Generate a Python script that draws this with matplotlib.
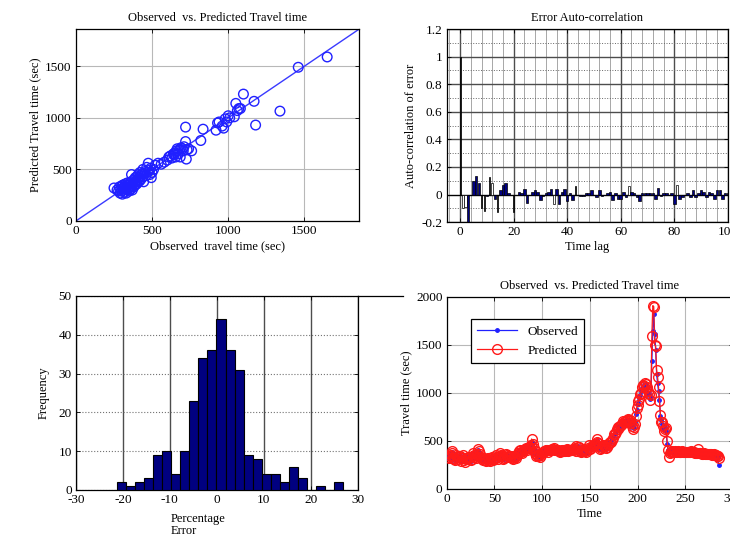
import numpy as np
import matplotlib
matplotlib.use("Agg")
import matplotlib.pyplot as plt
from matplotlib.ticker import MultipleLocator
from matplotlib.lines import Line2D

plt.rcParams['font.family'] = ['Liberation Serif', 'DejaVu Serif']
plt.rcParams['font.size'] = 9
plt.rcParams['axes.unicode_minus'] = False

# --- scatter: observed vs predicted travel time (sec)
scat_obs = [250, 270, 280, 285, 290, 295, 300, 300, 305, 310, 310, 315, 320, 320, 325, 330, 330, 335,
            340, 340, 345, 350, 350, 355, 360, 360, 365, 370, 370, 375, 380, 380, 385, 390, 390, 395,
            400, 400, 405, 410, 410, 415, 420, 420, 425, 430, 435, 440, 440, 445, 450, 455, 460, 465,
            470, 475, 480, 485, 490, 495, 500, 510, 520, 540, 560, 580,
            600, 610, 620, 630, 640, 645, 650, 655, 660, 665, 670, 680, 685, 690, 700, 705, 710, 720,
            720, 725, 730, 740, 760, 820, 835,
            920, 930, 940, 960, 970, 980, 990, 1000, 1010, 1040, 1050, 1060, 1070, 1080, 1100, 1170,
            1180, 1340, 1460, 1650]
scat_pred = [320, 300, 290, 330, 270, 310, 340, 290, 260, 320, 350, 300, 280, 330, 360, 310, 270, 340,
             300, 370, 320, 290, 350, 330, 310, 380, 450, 340, 300, 360, 400, 330, 370, 350, 420, 390,
             360, 430, 400, 380, 450, 420, 390, 470, 440, 410, 460, 500, 430, 380, 460, 480, 440, 520,
             470, 560, 490, 450, 510, 420, 470, 500, 540, 560, 550, 570,
             590, 620, 630, 610, 650, 640, 660, 620, 680, 700, 650, 690, 620, 710, 700, 680, 720, 770,
             910, 600, 690, 700, 680, 780, 890,
             880, 950, 960, 920, 900, 990, 960, 1020, 1000, 1010, 1140, 1070, 1090, 1090, 1230, 1160,
             930, 1065, 1490, 1590]

# --- error auto-correlation, lags 0..100
acf_vals = [1.0, -0.10, -0.09, -0.25, 0.0, 0.10, 0.135, 0.08, -0.10, -0.12,
            -0.01, 0.13, 0.08, -0.03, -0.13, 0.03, 0.07, 0.08, 0.01, 0.0,
            -0.13, 0.0, 0.02, 0.01, 0.04, -0.06, 0.0, 0.02, 0.03, 0.02,
            -0.04, -0.01, 0.01, 0.02, 0.04, -0.07, 0.04, -0.07, 0.02, 0.04,
            -0.05, 0.01, -0.04, 0.06, 0.0, -0.01, -0.01, 0.01, 0.01, 0.03,
            0.0, -0.02, 0.03, -0.01, 0.0, 0.01, 0.02, -0.04, 0.01, -0.03,
            -0.03, 0.02, -0.02, 0.065, 0.02, 0.01, -0.02, -0.05, 0.01, 0.01,
            0.01, 0.01, 0.01, -0.03, 0.05, -0.01, 0.01, 0.01, 0.0, 0.01,
            -0.07, 0.07, -0.03, -0.02, 0.0, 0.01, -0.02, 0.03, -0.02, 0.01,
            0.03, 0.02, -0.02, 0.02, 0.01, -0.03, 0.03, 0.03, -0.03, 0.01, 0.01]
acf_kind = ("kwwnnnnnkk" "nkwnknnnnn" "knnnnnnnnn" "nnnnnwnnnn" "nnnknnnnnn"
            "nnnnnnnnnn" "nnnwnnnnnn" "nnnnnnnnnn" "nwnnnnnnnn" "nnnnnnnnnnn")

# --- histogram of percentage error
hist_counts = [2, 1, 2, 3, 9, 10, 4, 10, 23, 34, 36, 44, 36, 31, 9, 8, 4, 4, 2, 6, 3, 0, 1, 0, 2]
hist_start = -21.3
hist_width = 1.93

# --- travel time series (sec)
observed = [320, 340, 310, 360, 380, 350, 330, 300, 320, 340,
            310, 330, 350, 320, 300, 330, 340, 290, 310, 330,
            300, 320, 340, 310, 290, 330, 350, 360, 340, 320,
            330, 380, 400, 370, 340, 320, 300, 310, 330, 290,
            300, 320, 310, 290, 300, 330, 320, 310, 300, 320,
            330, 340, 310, 320, 350, 360, 340, 330, 320, 310,
            340, 350, 360, 330, 320, 340, 330, 310, 320, 330,
            340, 320, 330, 360, 380, 400, 390, 370, 380, 400,
            410, 430, 420, 390, 440, 450, 420, 470, 490, 480,
            420, 380, 360, 350, 340, 330, 370, 320, 340, 380,
            390, 400, 380, 410, 400, 390, 410, 400, 420, 410,
            430, 420, 400, 390, 410, 420, 400, 380, 390, 400,
            410, 390, 400, 380, 420, 410, 400, 390, 410, 420,
            400, 430, 410, 440, 420, 380, 400, 450, 430, 380,
            370, 400, 420, 430, 380, 370, 410, 440, 450, 430,
            440, 460, 470, 450, 480, 460, 500, 510, 470, 440,
            430, 420, 450, 470, 440, 460, 420, 450, 470, 490,
            480, 500, 520, 540, 560, 580, 600, 610, 630, 640,
            650, 670, 660, 690, 700, 710, 690, 720, 700, 710,
            720, 700, 680, 650, 640, 630, 700, 780, 820, 880,
            900, 950, 980, 1020, 1050, 1060, 1080, 1090, 1070, 1050,
            1000, 980, 940, 960, 1330, 1650, 1820, 1610, 1450, 1200,
            1100, 1020, 930, 760, 720, 680, 650, 620, 640, 600,
            470, 400, 370, 380, 390, 385, 380, 390, 385, 380,
            390, 380, 385, 390, 380, 385, 390, 380, 385, 380,
            390, 385, 380, 375, 385, 390, 380, 375, 385, 380,
            370, 375, 380, 370, 365, 375, 370, 360, 365, 370,
            360, 365, 370, 360, 355, 365, 360, 355, 350, 360,
            350, 345, 340, 330, 250]
predicted = [330, 320, 340, 350, 390, 370, 320, 310, 300, 350,
             330, 310, 340, 340, 290, 320, 350, 300, 280, 320,
             310, 330, 320, 330, 300, 310, 340, 370, 350, 330,
             320, 360, 420, 390, 360, 330, 310, 300, 320, 300,
             290, 310, 320, 300, 290, 320, 330, 300, 310, 310,
             320, 350, 330, 310, 340, 370, 350, 340, 310, 320,
             330, 360, 350, 340, 330, 330, 340, 320, 310, 340,
             330, 330, 320, 350, 370, 390, 400, 380, 370, 390,
             400, 420, 430, 400, 430, 440, 430, 460, 520, 470,
             430, 390, 370, 340, 350, 340, 360, 330, 350, 370,
             380, 390, 390, 400, 410, 380, 400, 410, 410, 420,
             420, 430, 410, 400, 400, 410, 410, 390, 380, 390,
             400, 400, 390, 390, 410, 420, 390, 400, 400, 410,
             410, 420, 420, 430, 450, 390, 390, 440, 440, 390,
             380, 390, 410, 420, 390, 380, 400, 430, 460, 420,
             430, 450, 460, 460, 470, 470, 490, 520, 480, 450,
             420, 430, 440, 460, 450, 450, 430, 440, 460, 480,
             490, 490, 510, 530, 570, 570, 590, 620, 620, 650,
             640, 660, 670, 680, 710, 700, 700, 710, 720, 730,
             710, 720, 690, 660, 620, 650, 680, 760, 840, 870,
             920, 940, 990, 1000, 1060, 1080, 1070, 1100, 1090, 1060,
             1020, 990, 930, 980, 1590, 1910, 1900, 1500, 1490, 1240,
             1170, 1060, 920, 770, 700, 700, 660, 600, 620, 630,
             500, 410, 330, 370, 380, 390, 380, 385, 390, 380,
             385, 390, 380, 385, 385, 380, 390, 385, 380, 385,
             385, 380, 385, 380, 380, 390, 385, 380, 380, 375,
             375, 370, 420, 375, 370, 370, 375, 365, 360, 370,
             365, 360, 365, 365, 360, 360, 365, 355, 355, 365,
             355, 350, 345, 340, 320]

fig = plt.figure(figsize=(7.3, 5.39), dpi=100)


def box_style(ax):
    ax.tick_params(direction='in', top=True, right=True, length=3, width=0.6, labelsize=9.5, pad=3)
    for s in ax.spines.values():
        s.set_linewidth(0.9)
        s.set_color('black')


# top left: scatter
ax1 = fig.add_axes([0.104, 0.590, 0.388, 0.356])
lim = 1860
ax1.plot([0, lim], [0, lim], color='#3a3aff', lw=1.0, zorder=2)
ax1.scatter(scat_obs, scat_pred, s=48, facecolors='none', edgecolors='#2020ff', linewidths=1.0, zorder=3)
ax1.set_xlim(0, lim)
ax1.set_ylim(0, lim)
ax1.set_xticks([0, 500, 1000, 1500])
ax1.set_yticks([0, 500, 1000, 1500])
ax1.grid(True, color='0.72', lw=0.8)
ax1.set_axisbelow(True)
box_style(ax1)
ax1.set_title("Observed  vs. Predicted Travel time", fontsize=9, pad=6)
ax1.set_xlabel("Observed  travel time (sec)", fontsize=9, labelpad=2)
ax1.set_ylabel("Predicted Travel time (sec)", fontsize=9, labelpad=3)

# top right: error auto-correlation
ax2 = fig.add_axes([0.612, 0.588, 0.385, 0.358])
kind_color = {'n': '#000080', 'w': 'white', 'k': 'black'}
kind_width = {'n': 0.95, 'w': 0.8, 'k': 0.35}
lags = np.arange(len(acf_vals))
ax2.bar(lags, acf_vals, width=[kind_width[k] for k in acf_kind],
        color=[kind_color[k] for k in acf_kind], edgecolor='black', linewidth=0.5, zorder=3)
ax2.axhline(0, color='black', lw=0.8, zorder=2)
ax2.set_xlim(-5, 100)
ax2.set_ylim(-0.2, 1.2)
ax2.set_xticks([0, 20, 40, 60, 80, 100])
ax2.set_yticks(np.arange(-0.2, 1.21, 0.2))
ax2.yaxis.set_major_formatter(plt.FuncFormatter(lambda v, p: "%g" % round(v, 1)))
ax2.xaxis.set_minor_locator(MultipleLocator(4))
ax2.yaxis.set_minor_locator(MultipleLocator(0.1))
ax2.grid(True, which='major', color='0.3', lw=1.0)
ax2.grid(True, which='minor', axis='x', color='0.6', lw=0.6)
ax2.grid(True, which='minor', axis='y', color='0.4', lw=0.7, ls=':')
ax2.set_axisbelow(True)
box_style(ax2)
ax2.tick_params(which='minor', length=0)
ax2.set_title("Error Auto-correlation", fontsize=9, pad=6)
ax2.set_xlabel("Time lag", fontsize=9, labelpad=2)
ax2.set_ylabel("Auto-correlation of error", fontsize=9, labelpad=3)

# bottom left: histogram of percentage error
ax3 = fig.add_axes([0.104, 0.091, 0.386, 0.360])
left_edges = hist_start + hist_width * np.arange(len(hist_counts))
ax3.bar(left_edges, hist_counts, width=hist_width, align='edge',
        color='#000080', edgecolor='black', linewidth=0.8, zorder=3)
ax3.set_xlim(-30, 30)
ax3.set_ylim(0, 50)
ax3.set_xticks(np.arange(-30, 31, 10))
ax3.set_yticks(np.arange(0, 51, 10))
ax3.grid(True, axis='x', color='0.3', lw=1.0)
ax3.grid(True, axis='y', color='0.45', lw=0.8, ls=':')
ax3.set_axisbelow(True)
box_style(ax3)
ax3.set_ylabel("Frequency", fontsize=9, labelpad=6)
ax3.set_xlabel("Percentage\nError", fontsize=9, ha='left', x=0.335, multialignment='left',
               labelpad=5, linespacing=1.0)
fig.add_artist(Line2D([0.490, 0.552], [0.451, 0.451], color='black', lw=0.9))

# bottom right: time series
ax4 = fig.add_axes([0.612, 0.093, 0.392, 0.356])
t_obs = np.arange(1, len(observed) + 1)
t_pred = np.arange(1, len(predicted) + 1)
ax4.plot(t_obs, observed, color='#2020ff', lw=0.9, marker='.', markersize=5, label='Observed', zorder=3)
ax4.plot(t_pred, predicted, color='#ff1a1a', lw=0.9, marker='o', markersize=7, mfc='none',
         mec='#ff1a1a', mew=1.0, label='Predicted', zorder=4)
ax4.set_xlim(0, 300)
ax4.set_ylim(0, 2000)
ax4.set_xticks(np.arange(0, 301, 50))
ax4.set_yticks(np.arange(0, 2001, 500))
ax4.grid(True, color='0.72', lw=0.8)
ax4.set_axisbelow(True)
box_style(ax4)
ax4.set_title("Observed  vs. Predicted Travel time", fontsize=9, pad=6)
ax4.set_xlabel("Time", fontsize=9, labelpad=2)
ax4.set_ylabel("Travel time (sec)", fontsize=9, labelpad=3)
leg = ax4.legend(loc='upper left', bbox_to_anchor=(0.06, 0.92), fontsize=9.5, frameon=True,
                 fancybox=False, edgecolor='black', framealpha=1, borderpad=0.5,
                 handlelength=3.0, labelspacing=0.5)
leg.get_frame().set_linewidth(0.9)

fig.savefig("out.png", dpi=100)
